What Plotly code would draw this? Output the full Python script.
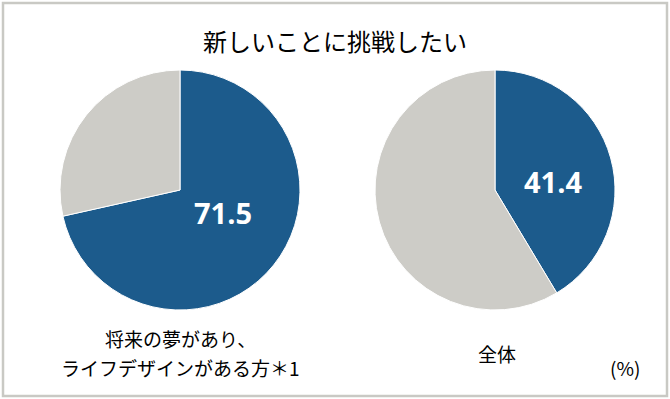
import plotly.graph_objects as go

title = "新しいことに挑戦したい"
group_lines = [["将来の夢があり、", "ライフデザインがある方＊1"], ["全体"]]
yes_values = [71.5, 41.4]
slice_names = ["挑戦したい", "その他"]
unit_label = "(%)"

BLUE = "#1c5b8c"
GRAY = "#cdccc7"
JP = "Noto Sans CJK JP"

W, H = 670, 399


def px(x, y):
    return x / W, (H - y) / H


def note(text, x, y, size, color="#111", family=JP, weight="normal"):
    fx, fy = px(x, y)
    return dict(text=text, x=fx, y=fy, xref="paper", yref="paper", showarrow=False,
                xanchor="center", yanchor="middle",
                font=dict(size=size, color=color, family=family, weight=weight))


domains = [
    dict(x=[60 / W, 300 / W], y=[(H - 310) / H, (H - 70) / H]),
    dict(x=[375 / W, 615 / W], y=[(H - 310) / H, (H - 70) / H]),
]
value_label_pos = [(223, 212), (553, 181)]

fig = go.Figure()
annotations = []
for i, v in enumerate(yes_values):
    fig.add_trace(go.Pie(
        values=[v, round(100 - v, 1)],
        labels=slice_names,
        textinfo="none",
        marker=dict(colors=[BLUE, GRAY], line=dict(color="white", width=1)),
        sort=False,
        direction="clockwise",
        rotation=0,
        domain=domains[i],
        showlegend=False,
        hoverinfo="skip",
    ))
    annotations.append(note(f"{v:.1f}", *value_label_pos[i], 29, color="white",
                            family="Open Sans, Noto Sans", weight="bold"))

annotations.append(note(title, 335, 40, 24, color="#000"))
for j, line in enumerate(group_lines[0]):
    annotations.append(note(line, 180, 338 + 29 * j, 19, color="#000"))
annotations.append(note(group_lines[1][0], 497, 353, 19, color="#000"))
annotations.append(note(unit_label, 625, 367, 19, color="#000"))

fig.update_layout(
    width=W, height=H,
    margin=dict(l=0, r=0, t=0, b=0),
    paper_bgcolor="white",
    plot_bgcolor="white",
    annotations=annotations,
    shapes=[dict(type="rect", xref="paper", yref="paper",
                 x0=3 / W, x1=(W - 3) / W, y0=3 / H, y1=(H - 3) / H,
                 line=dict(color="#c9c9c4", width=2.5))],
)

fig.write_html("out.html", config={"displayModeBar": False},
               post_script="document.body.style.margin='0';document.body.style.overflow='hidden';")
